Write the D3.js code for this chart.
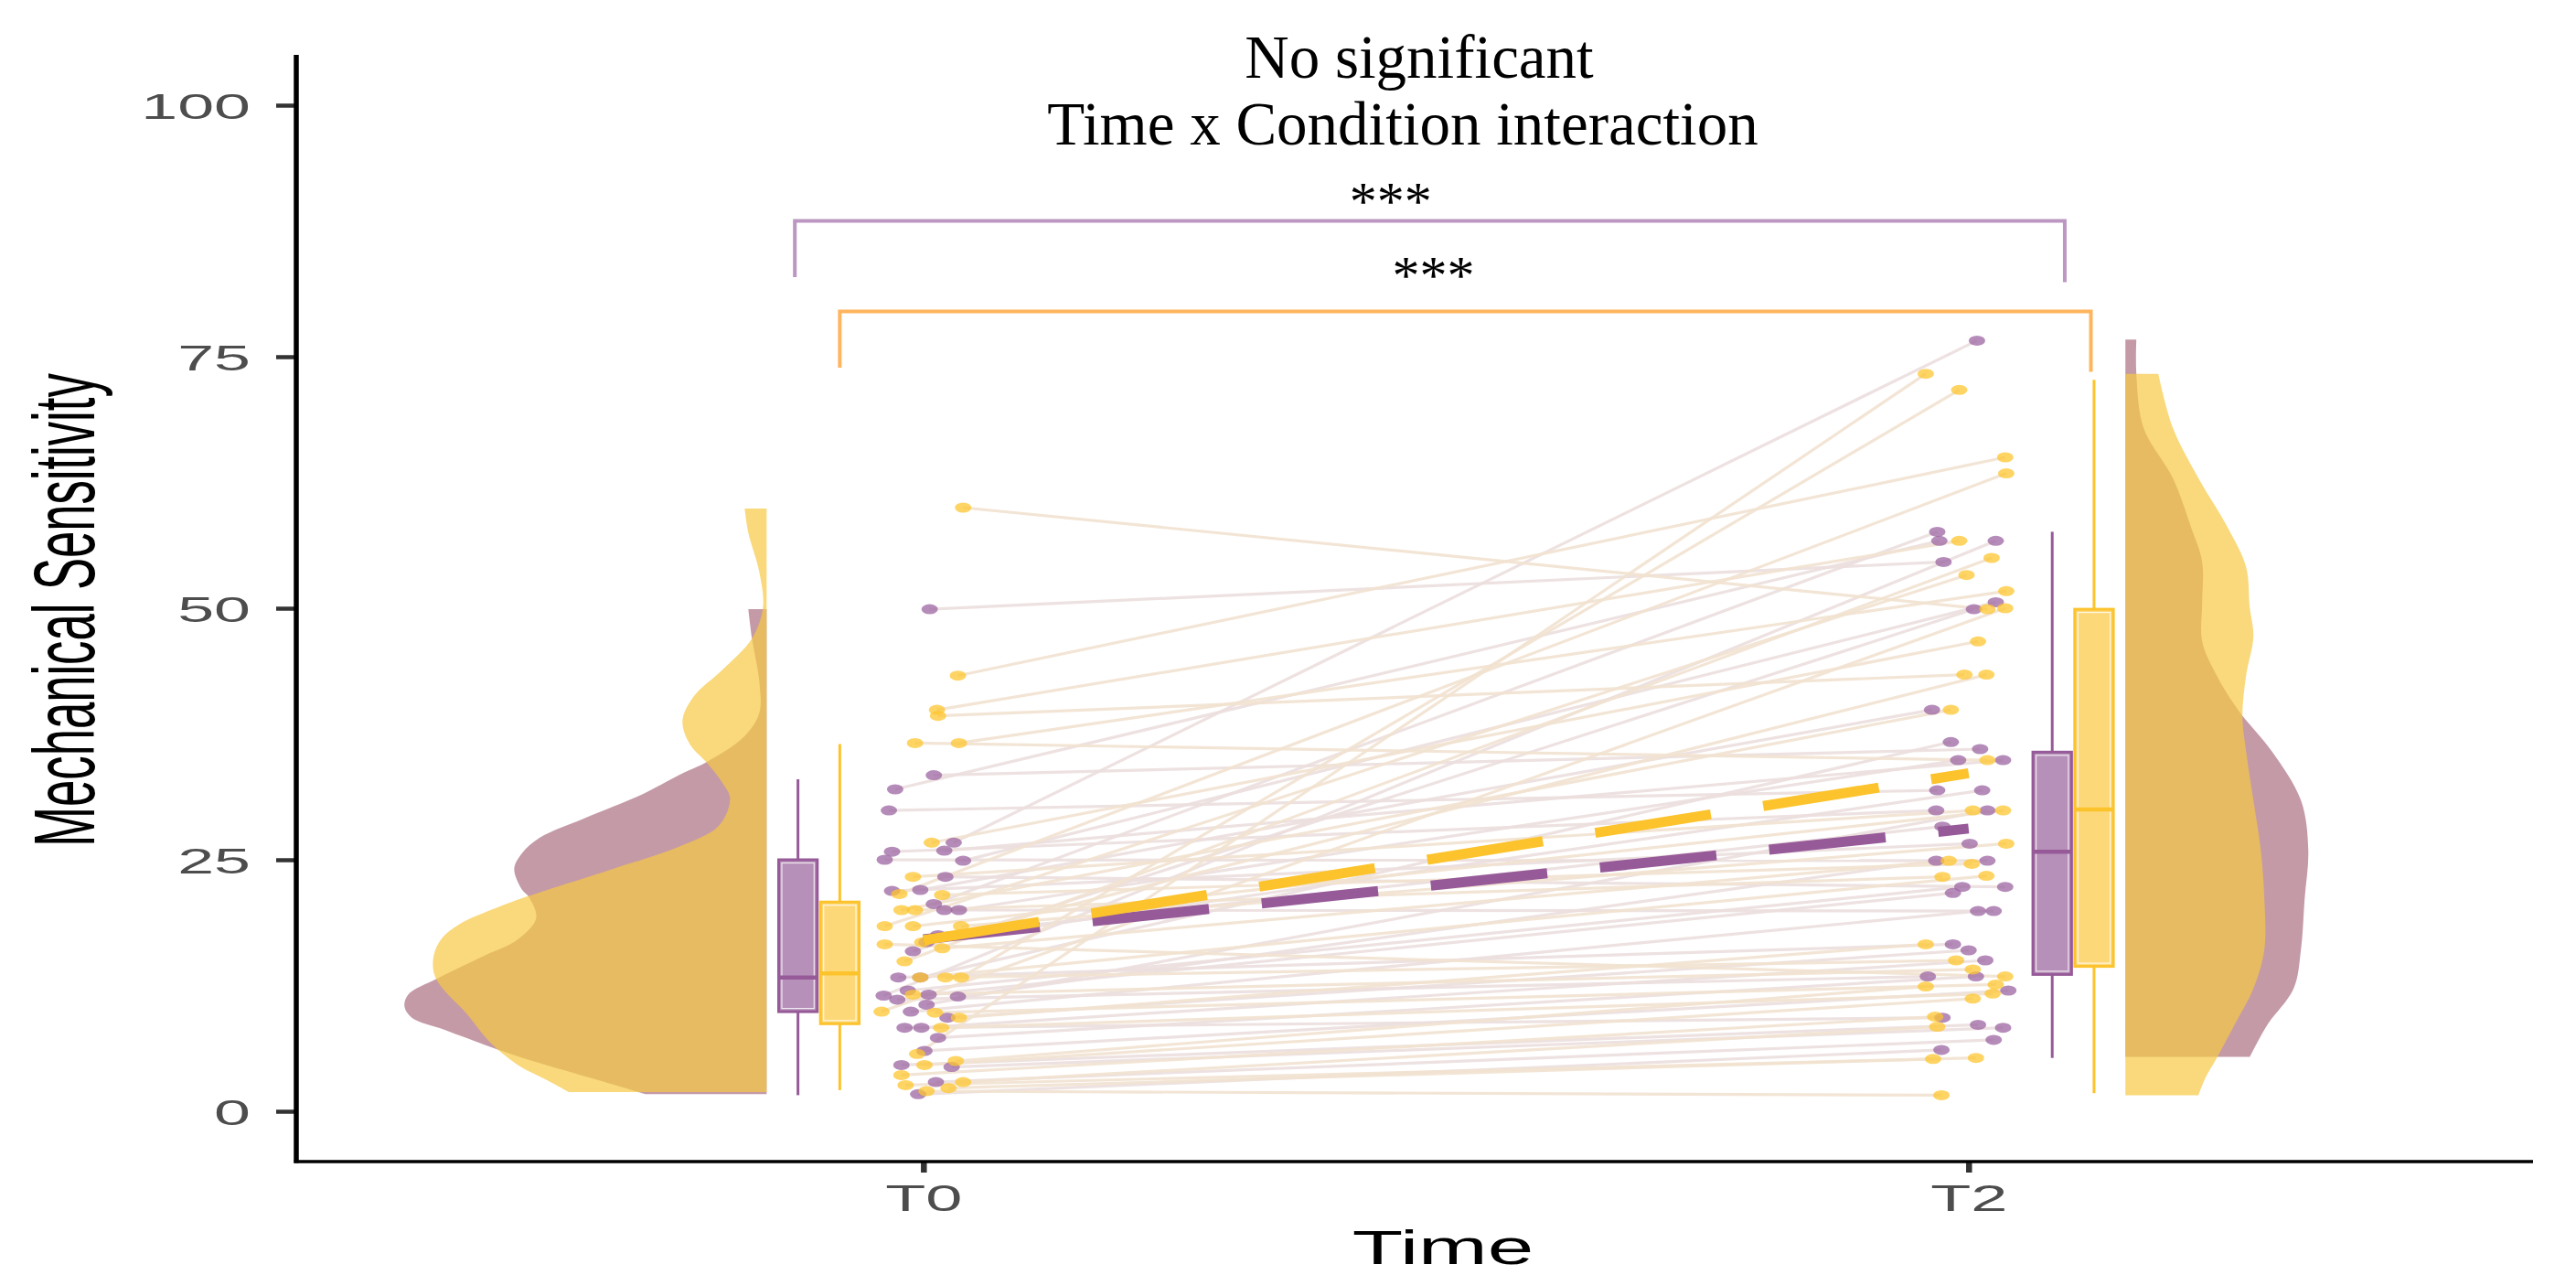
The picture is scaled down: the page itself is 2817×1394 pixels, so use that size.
<!DOCTYPE html>
<html>
<head>
<meta charset="utf-8">
<script src="https://cdn.jsdelivr.net/npm/d3@7/dist/d3.min.js"></script>
<style>
  body { margin: 0; background: #fff; }
  svg { display: block; }
</style>
</head>
<body>
<script>
// size of the picture
var w = 2817;
var h = 1394;

// categories and ticks
var timeLabels = ["T0", "T2"];
var yTicks = [0, 25, 50, 75, 100];

// participants of the purple condition: value at T0 / T2 and x jitter (1/1000 of a time step)
var purpleT0 = [49.9, 33.4, 32.0, 29.9, 26.7, 25.9, 25.8, 25.0, 24.9, 23.3, 22.0, 21.9, 20.6, 20.0, 20.0, 17.5, 16.8, 15.9,
                13.3, 13.3, 12.0, 11.6, 11.5, 11.4, 11.1, 10.6, 9.9, 9.3, 8.3, 8.3, 7.3, 6.0, 4.6, 4.4, 2.9, 1.7];
var purpleT2 = [54.6, 36.0, 56.7, 31.9, 76.6, 34.9, 29.9, 24.9, 50.6, 22.3, 39.9, 26.6, 57.6, 19.9, 34.9, 28.3, 31.9, 49.9,
                16.6, 36.7, 22.3, 21.7, 56.7, 24.9, 13.4, 29.9, 19.9, 16.0, 9.3, 15.0, 13.4, 12.0, 8.6, 8.3, 7.1, 6.1];
var purpleJ0 = [6, 10, -27, -33, 29, 20, -30, -37, 38, 21, -3, -30, 10, 20, 34, 14, 3, -10,
                -24, -3, -15, 5, -38, 33, -25, 3, -12, 23, -18, -2, 14, 1, -21, 27, 12, -5];
var purpleJ2 = [-24, 11, -28, -30, 8, 33, -31, 18, 26, 35, -35, 1, -30, 24, -10, -25, 13, 5,
                -15, -17, -6, -15, 26, -31, -39, 18, 9, 0, -25, 16, 7, 38, 9, 33, 24, -26];

// participants of the yellow condition
var yellowT0 = [60.0, 43.3, 39.9, 39.3, 36.6, 36.6, 26.7, 23.3, 21.6, 21.5, 20.0, 20.0, 18.4, 18.4, 18.4, 16.8, 16.6, 16.2,
                14.9, 13.3, 13.3, 13.3, 11.6, 9.9, 9.8, 9.3, 8.3, 5.7, 5.0, 4.6, 3.6, 2.9, 2.6, 2.3, 2.0];
var yellowT2 = [49.9, 65.0, 56.7, 43.4, 34.9, 51.7, 46.7, 29.9, 63.4, 24.6, 39.9, 23.3, 53.3, 29.9, 26.6, 43.4, 13.4, 24.9,
                55.0, 23.4, 15.0, 71.7, 14.1, 50.0, 12.6, 16.6, 11.7, 73.3, 12.4, 11.2, 9.4, 8.4, 5.3, 5.2, 1.6];
var yellowJ0 = [38, 33, 13, 14, -8, 34, 8, -10, -23, 18, -21, -8, -37, -10, 36, -1, -37, 18,
                -18, -3, 21, 36, -10, -40, 11, 34, 17, -6, 31, 1, -21, 38, -17, 24, 3];
var yellowJ2 = [18, 35, -9, -4, 18, 36, 9, 4, 36, 3, -17, -25, -2, 33, 36, 17, 35, -19,
                22, 17, -12, -9, 4, 35, 26, -41, 23, -41, -41, 4, -32, -30, 7, -34, -26];

// condition means at T0 and T2
var meanPurple = [17.1, 28.1];
var meanYellow = [17.0, 33.6];

// boxplot stats [lower whisker, q1, median, q3, upper whisker]
var boxPurpleT0 = [1.6, 9.9, 13.3, 25.0, 33.0];
var boxYellowT0 = [2.1, 8.7, 13.7, 20.8, 36.5];
var boxPurpleT2 = [5.3, 13.6, 25.8, 35.7, 57.6];
var boxYellowT2 = [1.8, 14.4, 30.0, 49.9, 72.7];

// half violins: [value, relative density]
var violinPurpleT0 = [[1.7, 33], [3.1, 46], [5.0, 64], [6.6, 77], [8.1, 88], [9.3, 97], [10.4, 99], [11.6, 98],
                      [13.2, 90], [15.5, 77], [17.1, 68], [19.2, 63], [21.3, 65], [22.1, 67], [24.1, 69], [25.6, 67],
                      [27.2, 62], [29.1, 50], [31.5, 34], [33.4, 24], [34.8, 16], [37.3, 6], [39.6, 2], [42.7, 2],
                      [47.0, 4], [49.9, 5]];
var violinYellowT0 = [[1.9, 54], [3.1, 60], [4.6, 68], [7.0, 76], [9.7, 82], [12.4, 89], [13.8, 91], [15.5, 91],
                      [17.1, 89], [18.6, 84], [20.2, 74], [21.4, 65], [24.1, 42], [26.3, 24], [28.4, 13], [31.1, 10],
                      [32.6, 12], [34.5, 16], [36.5, 21], [38.8, 23], [41.2, 20], [43.9, 12], [47.0, 4], [50.1, 1],
                      [53.6, 2], [57.5, 5], [59.9, 6]];
var violinPurpleT2 = [[5.4, 34], [6.8, 36], [8.7, 39], [12.2, 46], [16.1, 48], [21.1, 49], [26.0, 50], [30.9, 48],
                      [35.8, 40], [39.8, 31], [43.3, 25], [46.7, 21], [50.6, 21], [54.6, 21], [58.0, 18], [62.9, 13],
                      [67.9, 5], [73.3, 3], [76.7, 3]];
var violinYellowT2 = [[1.6, 20], [3.4, 22], [5.3, 25], [8.7, 30], [12.2, 35], [16.1, 38], [21.1, 38], [26.0, 37],
                      [30.9, 35], [35.8, 33], [39.3, 32], [43.3, 33], [47.2, 35], [50.1, 34], [54.1, 33], [58.0, 28],
                      [62.9, 20], [67.9, 13], [73.3, 9]];

// significance brackets [x start, x end (time units), y top, left leg end, right leg end]
var bracketPurple = [0.877, 2.092, 88.5, 82.9, 82.4];
var bracketYellow = [0.920, 2.117, 79.5, 73.9, 73.5];

// colours
var purple = "#965a99";
var yellow = "#fcc32c";

window.onload = function() {

  var svg = d3.select("body")
              .append("svg")
              .attr("width", w)
              .attr("height", h);

  // time axis: T0 = 1, T2 = 2
  var x = d3.scaleLinear()
            .domain([0.4, 2.54])
            .range([324, 2770]);

  var y = d3.scaleLinear()
            .domain([-5, 105])
            .range([1270, 60]);

  var densityScale = d3.scaleLinear()
                       .domain([0, 100])
                       .range([0, 400]);

  // violins
  drawViolin(svg, violinPurpleT0, 0.85, -1, "#ab6f81", x, y, densityScale);
  drawViolin(svg, violinYellowT0, 0.85, -1, "#f6c944", x, y, densityScale);
  drawViolin(svg, violinPurpleT2, 2.15, 1, "#ab6f81", x, y, densityScale);
  drawViolin(svg, violinYellowT2, 2.15, 1, "#f6c944", x, y, densityScale);

  // boxplots
  drawBox(svg, boxPurpleT0, 0.88, "#b690b8", purple, x, y);
  drawBox(svg, boxYellowT0, 0.92, "#fdd878", yellow, x, y);
  drawBox(svg, boxPurpleT2, 2.08, "#b690b8", purple, x, y);
  drawBox(svg, boxYellowT2, 2.12, "#fdd878", yellow, x, y);

  // participant lines
  var pairs = [];
  purpleT0.forEach(function(v, i) {
    pairs.push({g: "p", a: v, b: purpleT2[i], ja: purpleJ0[i], jb: purpleJ2[i]});
  });
  yellowT0.forEach(function(v, i) {
    pairs.push({g: "y", a: v, b: yellowT2[i], ja: yellowJ0[i], jb: yellowJ2[i]});
  });

  svg.append("g")
     .selectAll("line")
     .data(pairs)
     .enter()
     .append("line")
     .attr("x1", function(d) { return x(1 + d.ja / 1000); })
     .attr("y1", function(d) { return y(d.a); })
     .attr("x2", function(d) { return x(2 + d.jb / 1000); })
     .attr("y2", function(d) { return y(d.b); })
     .attr("stroke", function(d) { return d.g == "p" ? "#ecdfde" : "#f2e3d1"; })
     .attr("stroke-width", 3.2)
     .attr("opacity", 0.9);

  // points
  var pts = [];
  pairs.forEach(function(d) {
    pts.push({g: d.g, v: d.a, t: 1 + d.ja / 1000});
    pts.push({g: d.g, v: d.b, t: 2 + d.jb / 1000});
  });

  svg.append("g")
     .selectAll("ellipse")
     .data(pts)
     .enter()
     .append("ellipse")
     .attr("cx", function(d) { return x(d.t); })
     .attr("cy", function(d) { return y(d.v); })
     .attr("rx", 9)
     .attr("ry", 5.5)
     .attr("fill", function(d) { return d.g == "p" ? "#9c66a2" : "#fdc530"; })
     .attr("opacity", 0.75);

  // dashed mean lines
  var meanLine = d3.line()
                   .x(function(d, i) { return x(i + 1); })
                   .y(function(d) { return y(d); });

  [[meanPurple, purple], [meanYellow, yellow]].forEach(function(m) {
    svg.append("path")
       .attr("d", meanLine(m[0]))
       .attr("fill", "none")
       .attr("stroke", m[1])
       .attr("stroke-width", 11)
       .attr("stroke-dasharray", "128,58");
  });

  // brackets with stars
  drawBracket(svg, bracketPurple, "#bb97c2", x, y);
  drawBracket(svg, bracketYellow, "#ffb55e", x, y);

  svg.append("text")
     .attr("x", x(1.447))
     .attr("y", y(88.6))
     .attr("text-anchor", "middle")
     .style("font-family", "'Liberation Serif', serif")
     .style("font-size", "60px")
     .text("***");

  svg.append("text")
     .attr("x", x(1.488))
     .attr("y", y(81.3))
     .attr("text-anchor", "middle")
     .style("font-family", "'Liberation Serif', serif")
     .style("font-size", "60px")
     .text("***");

  // axes
  var yAxis = d3.axisLeft(y)
                .tickValues(yTicks)
                .tickSize(22)
                .tickFormat(d3.format("d"));

  var gy = svg.append("g")
              .attr("transform", "translate(" + x(0.4) + ",0)")
              .call(yAxis);

  gy.select(".domain").remove();
  gy.selectAll(".tick line")
    .attr("stroke", "#333")
    .attr("stroke-width", 4.5);
  gy.selectAll(".tick text")
    .attr("x", 0)
    .attr("dy", "0.36em")
    .attr("transform", "translate(-50,0) scale(1.84,1)")
    .attr("fill", "#4d4d4d")
    .style("font-family", "'Liberation Sans', sans-serif")
    .style("font-size", "39px");

  var xAxis = d3.axisBottom(x)
                .tickValues([1, 2])
                .tickSize(12)
                .tickFormat(function(d) { return timeLabels[d - 1]; });

  var gx = svg.append("g")
              .attr("transform", "translate(0," + y(-5) + ")")
              .call(xAxis);

  gx.select(".domain").remove();
  gx.selectAll(".tick line")
    .attr("stroke", "#333")
    .attr("stroke-width", 6.5);
  gx.selectAll(".tick text")
    .attr("y", 0)
    .attr("dy", "0.71em")
    .attr("transform", "translate(0,25) scale(1.76,1)")
    .attr("fill", "#4d4d4d")
    .style("font-family", "'Liberation Sans', sans-serif")
    .style("font-size", "41px");

  // axis lines
  svg.append("line")
     .attr("x1", x(0.4))
     .attr("x2", x(0.4))
     .attr("y1", y(105))
     .attr("y2", y(-5) + 1.5)
     .attr("stroke", "#000")
     .attr("stroke-width", 5.5);

  svg.append("line")
     .attr("x1", x(0.4) - 2.5)
     .attr("x2", x(2.54))
     .attr("y1", y(-5))
     .attr("y2", y(-5))
     .attr("stroke", "#000")
     .attr("stroke-width", 3.5);

  // axis titles
  svg.append("text")
     .attr("transform", "translate(103,667) scale(1.8,1) rotate(-90)")
     .attr("text-anchor", "middle")
     .style("font-family", "'Liberation Sans', sans-serif")
     .style("font-size", "52.6px")
     .text("Mechanical Sensitivity");

  svg.append("text")
     .attr("transform", "translate(1578,1382) scale(1.78,1)")
     .attr("text-anchor", "middle")
     .style("font-family", "'Liberation Sans', sans-serif")
     .style("font-size", "51px")
     .text("Time");

  // title
  svg.append("text")
     .attr("x", 1552)
     .attr("y", 85)
     .attr("text-anchor", "middle")
     .style("font-family", "'Liberation Serif', serif")
     .style("font-size", "67px")
     .text("No significant");

  svg.append("text")
     .attr("x", 1534)
     .attr("y", 158)
     .attr("text-anchor", "middle")
     .style("font-family", "'Liberation Serif', serif")
     .style("font-size", "67px")
     .text("Time x Condition interaction");
};


function drawViolin(svg, data, base, dir, color, x, y, densityScale) {
  var area = d3.area()
               .curve(d3.curveCatmullRom)
               .y(function(d) { return y(d[0]); })
               .x0(x(base))
               .x1(function(d) { return x(base) + dir * densityScale(d[1]); });

  svg.append("path")
     .attr("d", area(data))
     .attr("fill", color)
     .attr("fill-opacity", 0.7);
};


function drawBox(svg, s, center, fill, stroke, x, y) {
  var half = 0.0185;
  var left = x(center - half);
  var right = x(center + half);

  var g = svg.append("g");

  // whiskers
  g.append("line")
   .attr("x1", x(center)).attr("x2", x(center))
   .attr("y1", y(s[0])).attr("y2", y(s[1]))
   .attr("stroke", stroke).attr("stroke-width", 3);

  g.append("line")
   .attr("x1", x(center)).attr("x2", x(center))
   .attr("y1", y(s[3])).attr("y2", y(s[4]))
   .attr("stroke", stroke).attr("stroke-width", 3);

  g.append("rect")
   .attr("x", left)
   .attr("y", y(s[3]))
   .attr("width", right - left)
   .attr("height", y(s[1]) - y(s[3]))
   .attr("fill", fill)
   .attr("stroke", stroke)
   .attr("stroke-width", 3);

  g.append("rect")
   .attr("x", left + 3.5)
   .attr("y", y(s[3]) + 3.5)
   .attr("width", right - left - 7)
   .attr("height", y(s[1]) - y(s[3]) - 7)
   .attr("fill", "none")
   .attr("stroke", "#fff")
   .attr("stroke-opacity", 0.8)
   .attr("stroke-width", 1.2);

  g.append("line")
   .attr("x1", left).attr("x2", right)
   .attr("y1", y(s[2])).attr("y2", y(s[2]))
   .attr("stroke", stroke).attr("stroke-width", 4.5);
};


function drawBracket(svg, b, color, x, y) {
  var pts = [[b[0], b[3]], [b[0], b[2]], [b[1], b[2]], [b[1], b[4]]];

  var path = d3.line()
               .x(function(d) { return x(d[0]); })
               .y(function(d) { return y(d[1]); });

  svg.append("path")
     .attr("d", path(pts))
     .attr("fill", "none")
     .attr("stroke", color)
     .attr("stroke-width", 4);
};
</script>
</body>
</html>
